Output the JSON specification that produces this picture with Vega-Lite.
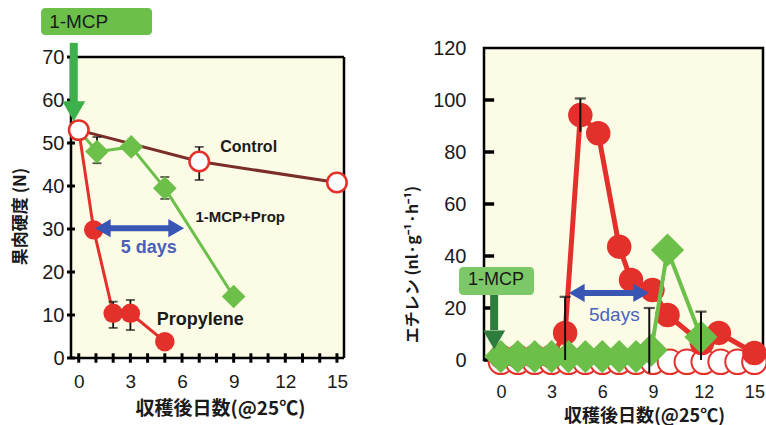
{
  "$schema": "https://vega.github.io/schema/vega-lite/v6.json",
  "padding": {"left": 11, "top": 8, "right": 2, "bottom": 0},
  "spacing": 51,
  "config": {
    "view": {"stroke": null},
    "axis": {"grid": false, "domain": false, "ticks": false, "labelFont": "Liberation Sans", "labelColor": "#1a1a1a", "titleFont": "Noto Sans CJK JP", "titleFontWeight": "bold", "titleColor": "#1a1a1a"},
    "text": {"font": "Liberation Sans", "fontWeight": "bold", "color": "#1a1a1a"}
  },
  "datasets": {
    "firm": [
      {"series": "Control", "day": 0, "value": 53},
      {"series": "Control", "day": 7, "value": 45.7},
      {"series": "Control", "day": 15, "value": 40.8},
      {"series": "Propylene", "day": 0, "value": 53},
      {"series": "Propylene", "day": 0.87, "value": 29.8},
      {"series": "Propylene", "day": 2, "value": 10.4},
      {"series": "Propylene", "day": 3, "value": 10.4},
      {"series": "Propylene", "day": 5, "value": 3.8},
      {"series": "1-MCP+Prop", "day": 0, "value": 53},
      {"series": "1-MCP+Prop", "day": 1.06, "value": 48},
      {"series": "1-MCP+Prop", "day": 3.05, "value": 49.1},
      {"series": "1-MCP+Prop", "day": 5, "value": 39.5},
      {"series": "1-MCP+Prop", "day": 9, "value": 14.3}
    ],
    "firmErr": [
      {"day": 7, "lo": 41.4, "hi": 49.1},
      {"day": 1.06, "lo": 45.3, "hi": 51.4},
      {"day": 5, "lo": 37, "hi": 42.1},
      {"day": 2, "lo": 7, "hi": 13.1},
      {"day": 3, "lo": 6.5, "hi": 13.5}
    ],
    "dayTicks": [
      {"day": 0}, {"day": 1}, {"day": 2}, {"day": 3}, {"day": 4}, {"day": 5}, {"day": 6}, {"day": 7},
      {"day": 8}, {"day": 9}, {"day": 10}, {"day": 11}, {"day": 12}, {"day": 13}, {"day": 14}, {"day": 15}
    ],
    "firmTicks": [
      {"value": 0}, {"value": 10}, {"value": 20}, {"value": 30}, {"value": 40}, {"value": 50}, {"value": 60}, {"value": 70}
    ],
    "ethTicks": [
      {"value": 0}, {"value": 20}, {"value": 40}, {"value": 60}, {"value": 80}, {"value": 100}
    ],
    "eth": [
      {"series": "Control", "day": 0, "value": -0.7},
      {"series": "Control", "day": 1, "value": -0.7},
      {"series": "Control", "day": 2, "value": -0.7},
      {"series": "Control", "day": 3, "value": -0.7},
      {"series": "Control", "day": 4, "value": -0.7},
      {"series": "Control", "day": 5, "value": -0.7},
      {"series": "Control", "day": 6, "value": -0.7},
      {"series": "Control", "day": 7, "value": -0.7},
      {"series": "Control", "day": 8, "value": -0.7},
      {"series": "Control", "day": 9, "value": -0.7},
      {"series": "Control", "day": 10, "value": -0.7},
      {"series": "Control", "day": 11, "value": -0.7},
      {"series": "Control", "day": 12, "value": -0.7},
      {"series": "Control", "day": 13, "value": -0.7},
      {"series": "Control", "day": 14, "value": -0.7},
      {"series": "Control", "day": 15, "value": -0.7},
      {"series": "Propylene", "day": 0, "value": 1.3},
      {"series": "Propylene", "day": 1, "value": 1.3},
      {"series": "Propylene", "day": 2, "value": 1.3},
      {"series": "Propylene", "day": 3, "value": 1.3},
      {"series": "Propylene", "day": 3.8, "value": 10.4},
      {"series": "Propylene", "day": 4.7, "value": 94.2},
      {"series": "Propylene", "day": 5.76, "value": 87.2},
      {"series": "Propylene", "day": 7, "value": 43.6},
      {"series": "Propylene", "day": 7.7, "value": 30.8},
      {"series": "Propylene", "day": 8.97, "value": 26.9},
      {"series": "Propylene", "day": 9.86, "value": 17.3},
      {"series": "Propylene", "day": 11.9, "value": 6.5},
      {"series": "Propylene", "day": 12.9, "value": 10.4},
      {"series": "Propylene", "day": 15, "value": 2.7},
      {"series": "1-MCP+Prop", "day": 0, "value": 1.3},
      {"series": "1-MCP+Prop", "day": 1, "value": 1.3},
      {"series": "1-MCP+Prop", "day": 2, "value": 1.3},
      {"series": "1-MCP+Prop", "day": 3, "value": 1.3},
      {"series": "1-MCP+Prop", "day": 4, "value": 1.3},
      {"series": "1-MCP+Prop", "day": 5, "value": 1.3},
      {"series": "1-MCP+Prop", "day": 6, "value": 1.3},
      {"series": "1-MCP+Prop", "day": 7, "value": 1.3},
      {"series": "1-MCP+Prop", "day": 8, "value": 1.3},
      {"series": "1-MCP+Prop", "day": 8.9, "value": 3.8},
      {"series": "1-MCP+Prop", "day": 9.86, "value": 42.3},
      {"series": "1-MCP+Prop", "day": 11.84, "value": 8.8}
    ],
    "ethErr": [
      {"day": 3.8, "lo": 0, "hi": 24.3},
      {"day": 4.7, "lo": 87.8, "hi": 100.6},
      {"day": 8.78, "lo": -5, "hi": 20},
      {"day": 11.84, "lo": 0, "hi": 18.6}
    ]
  },
  "hconcat": [
    {
      "width": 273,
      "height": 310,
      "data": {"name": "firm"},
      "layer": [
        {
          "data": {"values": [{}]},
          "mark": {"type": "rect", "fill": "#fbfbe6"},
          "encoding": {
            "x": {"datum": -0.45, "type": "quantitative", "scale": {"domain": [-0.45, 15.41], "nice": false, "zero": false},
              "axis": {"values": [0,3,6,9,12,15], "labelPadding": 14, "labelFontSize": 19, "title": "収穫後日数(@25℃)", "titleFontSize": 19, "titlePadding": 8, "titleX": 149}},
            "x2": {"datum": 15.41},
            "y": {"datum": 0, "type": "quantitative", "scale": {"domain": [0, 72.1], "nice": false},
              "axis": {"values": [0,10,20,30,40,50,60,70], "labelPadding": 7, "labelFontSize": 20, "title": "果肉硬度 (N)", "titleFontSize": 17, "titlePadding": 12, "titleY": 168}},
            "y2": {"datum": 70}
          }
        },
        {"data": {"values": [{}]}, "mark": {"type": "rule", "strokeWidth": 2.5, "color": "#000"}, "encoding": {"y": {"datum": 70}}},
        {"data": {"values": [{}]}, "mark": {"type": "rule", "strokeWidth": 2.5, "color": "#000"}, "encoding": {"y": {"datum": 0}}},
        {"data": {"values": [{}]}, "mark": {"type": "rule", "strokeWidth": 2.5, "color": "#000"}, "encoding": {"x": {"datum": -0.45}, "y": {"datum": 0}, "y2": {"datum": 70}}},
        {"data": {"values": [{}]}, "mark": {"type": "rule", "strokeWidth": 2.5, "color": "#000"}, "encoding": {"x": {"datum": 15.41}, "y": {"datum": 0}, "y2": {"datum": 70}}},
        {
          "data": {"name": "dayTicks"},
          "mark": {"type": "rule", "strokeWidth": 3, "color": "#000"},
          "encoding": {"x": {"field": "day", "type": "quantitative"}, "y": {"datum": -1.1}, "y2": {"datum": 1.1}}
        },
        {
          "data": {"name": "firmTicks"},
          "mark": {"type": "rule", "strokeWidth": 3, "color": "#000"},
          "encoding": {"x": {"datum": -0.68}, "x2": {"datum": -0.22}, "y": {"field": "value", "type": "quantitative"}}
        },
        {
          "mark": {"type": "line", "strokeWidth": 3},
          "encoding": {
            "x": {"field": "day", "type": "quantitative"},
            "y": {"field": "value", "type": "quantitative"},
            "color": {"field": "series", "type": "nominal", "scale": {"domain": ["Control", "Propylene", "1-MCP+Prop"], "range": ["#7b2d28", "#e3302a", "#6cc04a"]}, "legend": null}
          }
        },
        {
          "data": {"name": "firmErr"},
          "mark": {"type": "rule", "strokeWidth": 1.8, "color": "#111"},
          "encoding": {"x": {"field": "day", "type": "quantitative"}, "y": {"field": "lo", "type": "quantitative"}, "y2": {"field": "hi"}}
        },
        {
          "data": {"name": "firmErr"},
          "mark": {"type": "tick", "orient": "horizontal", "size": 9, "thickness": 1.8, "color": "#111"},
          "encoding": {"x": {"field": "day", "type": "quantitative"}, "y": {"field": "lo", "type": "quantitative"}}
        },
        {
          "data": {"name": "firmErr"},
          "mark": {"type": "tick", "orient": "horizontal", "size": 9, "thickness": 1.8, "color": "#111"},
          "encoding": {"x": {"field": "day", "type": "quantitative"}, "y": {"field": "hi", "type": "quantitative"}}
        },
        {
          "transform": [{"filter": "datum.series === 'Propylene' && datum.day > 0"}],
          "mark": {"type": "point", "shape": "circle", "filled": true, "size": 380, "color": "#e3302a", "opacity": 1},
          "encoding": {"x": {"field": "day", "type": "quantitative"}, "y": {"field": "value", "type": "quantitative"}}
        },
        {
          "transform": [{"filter": "datum.series === '1-MCP+Prop' && datum.day > 0"}],
          "mark": {"type": "point", "shape": "diamond", "filled": true, "size": 560, "color": "#6cc04a", "opacity": 1},
          "encoding": {"x": {"field": "day", "type": "quantitative"}, "y": {"field": "value", "type": "quantitative"}}
        },
        {
          "transform": [{"filter": "datum.series === 'Control'"}],
          "mark": {"type": "point", "shape": "circle", "filled": true, "size": 380, "fill": "#ffffff", "stroke": "#e3302a", "strokeWidth": 2.5, "opacity": 1},
          "encoding": {"x": {"field": "day", "type": "quantitative"}, "y": {"field": "value", "type": "quantitative"}}
        },
        {
          "data": {"values": [{}]},
          "mark": {"type": "rect", "fill": "#6cc04a", "cornerRadius": 4},
          "encoding": {"x": {"datum": -2.19}, "x2": {"datum": 4.26}, "y": {"datum": 81.4}, "y2": {"datum": 75.1}}
        },
        {
          "data": {"values": [{}]},
          "mark": {"type": "text", "align": "left", "baseline": "middle", "fontSize": 19, "fontWeight": "normal"},
          "encoding": {"x": {"datum": -1.72}, "y": {"datum": 78.1}, "text": {"value": "1-MCP"}}
        },
        {
          "data": {"values": [{}]},
          "mark": {"type": "rule", "strokeWidth": 8, "color": "#3cb04a"},
          "encoding": {"x": {"datum": -0.29}, "y": {"datum": 73.3}, "y2": {"datum": 59.5}}
        },
        {
          "data": {"values": [{}]},
          "mark": {"type": "point", "shape": "triangle-down", "filled": true, "size": 529, "color": "#3cb04a", "opacity": 1},
          "encoding": {"x": {"datum": -0.29}, "y": {"datum": 57.4}}
        },
        {
          "data": {"values": [{}]},
          "mark": {"type": "rule", "strokeWidth": 6, "color": "#3a56b4"},
          "encoding": {"x": {"datum": 1.4}, "x2": {"datum": 5.66}, "y": {"datum": 30.2}}
        },
        {
          "data": {"values": [{}]},
          "mark": {"type": "point", "shape": "triangle-left", "filled": true, "size": 330, "color": "#3a56b4", "opacity": 1},
          "encoding": {"x": {"datum": 1.4}, "y": {"datum": 30.2}}
        },
        {
          "data": {"values": [{}]},
          "mark": {"type": "point", "shape": "triangle-right", "filled": true, "size": 330, "color": "#3a56b4", "opacity": 1},
          "encoding": {"x": {"datum": 5.66}, "y": {"datum": 30.2}}
        },
        {
          "data": {"values": [{}]},
          "mark": {"type": "text", "align": "center", "baseline": "middle", "fontSize": 18, "color": "#4a5fb8"},
          "encoding": {"x": {"datum": 4.07}, "y": {"datum": 25.5}, "text": {"value": "5 days"}}
        },
        {
          "data": {"values": [{}]},
          "mark": {"type": "text", "align": "center", "baseline": "middle", "fontSize": 16},
          "encoding": {"x": {"datum": 9.87}, "y": {"datum": 49.1}, "text": {"value": "Control"}}
        },
        {
          "data": {"values": [{}]},
          "mark": {"type": "text", "align": "center", "baseline": "middle", "fontSize": 15},
          "encoding": {"x": {"datum": 9.38}, "y": {"datum": 32.9}, "text": {"value": "1-MCP+Prop"}}
        },
        {
          "data": {"values": [{}]},
          "mark": {"type": "text", "align": "center", "baseline": "middle", "fontSize": 18},
          "encoding": {"x": {"datum": 7.06}, "y": {"datum": 8.8}, "text": {"value": "Propylene"}}
        }
      ]
    },
    {
      "width": 279,
      "height": 312,
      "view": {"stroke": "#000", "strokeWidth": 2.5, "fill": "#fbfbe6"},
      "data": {"name": "eth"},
      "layer": [
        {
          "data": {"name": "ethTicks"},
          "mark": {"type": "rule", "strokeWidth": 3.5, "color": "#000"},
          "encoding": {
            "x": {"datum": -1.0, "type": "quantitative", "scale": {"domain": [-1.0, 15.51], "nice": false, "zero": false},
              "axis": {"values": [0,3,6,9,12,15], "labelPadding": 23, "labelFontSize": 18, "title": "収穫後日数(@25℃)", "titleFontSize": 18, "titlePadding": 6, "titleX": 160}},
            "x2": {"datum": -0.4},
            "y": {"field": "value", "type": "quantitative", "scale": {"domain": [0, 120], "nice": false, "zero": false},
              "axis": {"values": [0,20,40,60,80,100,120], "labelPadding": 18, "labelFontSize": 20, "title": "エチレン (nl·g⁻¹·h⁻¹)", "titleFontSize": 16, "titlePadding": 12, "titleY": 216}}
          }
        },
        {
          "transform": [{"filter": "datum.series === 'Control'"}],
          "mark": {"type": "point", "shape": "circle", "filled": true, "size": 600, "fill": "#ffffff", "stroke": "#e3302a", "strokeWidth": 2, "opacity": 1},
          "encoding": {"x": {"field": "day", "type": "quantitative"}, "y": {"field": "value", "type": "quantitative"}}
        },
        {
          "transform": [{"filter": "datum.series === 'Propylene'"}],
          "mark": {"type": "line", "strokeWidth": 5, "color": "#e3302a"},
          "encoding": {"x": {"field": "day", "type": "quantitative"}, "y": {"field": "value", "type": "quantitative"}}
        },
        {
          "transform": [{"filter": "datum.series === 'Propylene'"}],
          "mark": {"type": "point", "shape": "circle", "filled": true, "size": 600, "color": "#e3302a", "opacity": 1},
          "encoding": {"x": {"field": "day", "type": "quantitative"}, "y": {"field": "value", "type": "quantitative"}}
        },
        {
          "transform": [{"filter": "datum.series === '1-MCP+Prop'"}],
          "mark": {"type": "line", "strokeWidth": 4, "color": "#6cc04a"},
          "encoding": {"x": {"field": "day", "type": "quantitative"}, "y": {"field": "value", "type": "quantitative"}}
        },
        {
          "transform": [{"filter": "datum.series === '1-MCP+Prop'"}],
          "mark": {"type": "point", "shape": "diamond", "filled": true, "size": 1100, "color": "#6cc04a", "opacity": 1},
          "encoding": {"x": {"field": "day", "type": "quantitative"}, "y": {"field": "value", "type": "quantitative"}}
        },
        {
          "data": {"name": "ethErr"},
          "mark": {"type": "rule", "strokeWidth": 2, "color": "#111"},
          "encoding": {"x": {"field": "day", "type": "quantitative"}, "y": {"field": "lo", "type": "quantitative"}, "y2": {"field": "hi"}}
        },
        {
          "data": {"name": "ethErr"},
          "mark": {"type": "tick", "orient": "horizontal", "size": 11, "thickness": 2.2, "color": "#111"},
          "encoding": {"x": {"field": "day", "type": "quantitative"}, "y": {"field": "hi", "type": "quantitative"}}
        },
        {
          "data": {"values": [{}]},
          "mark": {"type": "rect", "fill": "#7cc868", "cornerRadius": 4},
          "encoding": {"x": {"datum": -2.48}, "x2": {"datum": 1.96}, "y": {"datum": 35.8}, "y2": {"datum": 25}}
        },
        {
          "data": {"values": [{}]},
          "mark": {"type": "text", "align": "left", "baseline": "middle", "fontSize": 18, "fontWeight": "normal"},
          "encoding": {"x": {"datum": -1.95}, "y": {"datum": 30.8}, "text": {"value": "1-MCP"}}
        },
        {
          "data": {"values": [{}]},
          "mark": {"type": "rule", "strokeWidth": 8, "color": "#2e7d3c"},
          "encoding": {"x": {"datum": -0.4}, "y": {"datum": 25}, "y2": {"datum": 11.5}}
        },
        {
          "data": {"values": [{}]},
          "mark": {"type": "point", "shape": "triangle-down", "filled": true, "size": 484, "color": "#2e7d3c", "opacity": 1},
          "encoding": {"x": {"datum": -0.4}, "y": {"datum": 7.7}}
        },
        {
          "data": {"values": [{}]},
          "mark": {"type": "rule", "strokeWidth": 6, "color": "#3a56b4"},
          "encoding": {"x": {"datum": 4.49}, "x2": {"datum": 8.3}, "y": {"datum": 25.8}}
        },
        {
          "data": {"values": [{}]},
          "mark": {"type": "point", "shape": "triangle-left", "filled": true, "size": 330, "color": "#3a56b4", "opacity": 1},
          "encoding": {"x": {"datum": 4.49}, "y": {"datum": 25.8}}
        },
        {
          "data": {"values": [{}]},
          "mark": {"type": "point", "shape": "triangle-right", "filled": true, "size": 330, "color": "#3a56b4", "opacity": 1},
          "encoding": {"x": {"datum": 8.3}, "y": {"datum": 25.8}}
        },
        {
          "data": {"values": [{}]},
          "mark": {"type": "text", "align": "center", "baseline": "middle", "fontSize": 19, "fontWeight": "normal", "color": "#4a63c0"},
          "encoding": {"x": {"datum": 6.71}, "y": {"datum": 17.3}, "text": {"value": "5days"}}
        }
      ]
    }
  ]
}
